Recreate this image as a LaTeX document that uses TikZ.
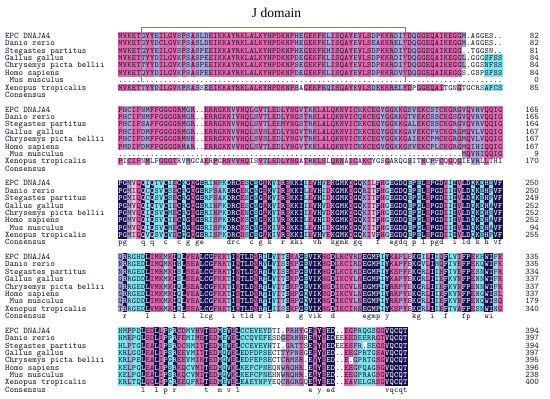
\documentclass[tikz,border=0pt]{standalone}
\usepackage{fontspec}
\newfontfamily\titlefont{Liberation Serif}
\definecolor{alnn}{HTML}{16104E}
\definecolor{alnm}{HTML}{E068AC}
\definecolor{alnl}{HTML}{ABA5D8}
\definecolor{alnc}{HTML}{7DE3EC}
\definecolor{alnp}{HTML}{F2BCD9}
\definecolor{alnT}{HTML}{1A1A2E}
\definecolor{brk}{HTML}{84845A}
\tikzset{
  lab/.style={anchor=base west, inner sep=0pt, font=\fontsize{8.6}{8.6}\selectfont\ttfamily, text=alnT},
  num/.style={anchor=base east, inner sep=0pt, font=\fontsize{8.6}{8.6}\selectfont\ttfamily, text=alnT},
  resd/.style={anchor=base, inner sep=0pt, font=\fontsize{8}{8}\selectfont\ttfamily, text=alnT},
  resw/.style={resd, text=white},
  bracketline/.style={draw=brk, line width=0.9pt},
}
\ExplSyntaxOn
\int_new:N \l__aln_col_int
\tl_new:N \l__aln_code_tl
\tl_new:N \l__aln_yt_tl
\tl_new:N \l__aln_ybt_tl
\tl_new:N \l__aln_yb_tl
\tl_new:N \l__aln_x_tl
\tl_new:N \l__aln_xr_tl
\tl_new:N \l__aln_xc_tl
\tl_new:N \l__aln_cols_tl
\cs_new_protected:Npn \__aln_cell:nnn #1#2#3
  {
    \tl_set:Nx \l__aln_xr_tl { \fp_eval:n { #1 + 4.67 } }
    \tl_set:Nx \l__aln_xc_tl { \fp_eval:n { #1 + 2.26 } }
    \str_if_eq:nnF {#2} {w}
      {
        \fill[fill=aln#2]~(#1,\l__aln_yt_tl)~rectangle~(\l__aln_xr_tl,\l__aln_ybt_tl);
      }
    \str_if_eq:nnF {#3} {-}
      {
        \str_if_eq:nnTF {#2} {n}
          { \path~(\l__aln_xc_tl,\l__aln_yb_tl)~node[resw]~{#3}; }
          { \path~(\l__aln_xc_tl,\l__aln_yb_tl)~node[resd]~{#3}; }
      }
  }
\NewDocumentCommand \alnrow { m m m m m }
  {
    \tl_set:Nx \l__aln_yt_tl { \fp_eval:n { 36 + 7.37 * (#1) - 3.685 } }
    \tl_set:Nx \l__aln_ybt_tl { \fp_eval:n { 36 + 7.37 * (#1) + 3.8 } }
    \tl_set:Nx \l__aln_yb_tl { \fp_eval:n { 36 + 7.37 * (#1) + 2.5 } }
    \path~(5,\l__aln_yb_tl)~node[lab]~{#2};
    \tl_set:Nx \l__aln_cols_tl { \tl_map_function:nN {#4} \exp_not:n }
    \int_zero:N \l__aln_col_int
    \tl_map_inline:nn {#3}
      {
        \int_incr:N \l__aln_col_int
        \tl_set:Nx \l__aln_code_tl { \tl_item:Nn \l__aln_cols_tl { \l__aln_col_int } }
        \tl_if_empty:NT \l__aln_code_tl { \tl_set:Nn \l__aln_code_tl {w} }
        \str_if_eq:nnT {##1} {.} { \tl_set:Nn \l__aln_code_tl {w} }
        \str_if_eq:nnT {##1} {-} { \tl_set:Nn \l__aln_code_tl {w} }
        \tl_set:Nx \l__aln_x_tl { \fp_eval:n { 118.3 + 4.52 * ( \l__aln_col_int - 1 ) } }
        \use:x { \exp_not:N \__aln_cell:nnn { \l__aln_x_tl } { \l__aln_code_tl } { \exp_not:n {##1} } }
      }
    \path~(539,\l__aln_yb_tl)~node[num]~{#5};
  }
\ExplSyntaxOff
\begin{document}
\begin{tikzpicture}[x=1pt,y=-1pt]
\fill[white] (0,0) rectangle (550,399);
\useasboundingbox (0,0) rectangle (550,399);
\node[font=\titlefont\fontsize{13.5}{13.5}\selectfont, anchor=base, inner sep=0pt, text=black] (title) at (276.5,17.5) {J domain};
% ---------- block 1 ----------
\alnrow{0}{EPC DNAJA4}{MVKETGYYEI LGVSPSASLD EIKKAYRKLA LKYHPDKNPH EGEKFKLISQ AYEVLSDPKK RDIYDQGGEQ AIKEGGM.AG GES..}{mmmmmlmmlm mmmlmlmlll mmmmmmmmmm mmmmmmmmml lmmmmmlmmm mmlmmmllmm mllmmlmmmm mmmmmmlwww wwwww}{82}
\alnrow{1}{Danio rerio}{MVKETGYYDC LGVKPSASLD EIKKAYRKLA LKYHPDKNPH EGEKFKLISQ AYEVLSEAKK RELYDQGGEQ AIKEGGM.AG GES..}{mmmmmlmmlm mmmlmlmlll mmmmmmmmmm mmmmmmmmml lmmmmmlmmm mmlmmmllmm mllmmlmmmm mmmmmmlwww wwwww}{82}
\alnrow{2}{Stegastes partitus}{MVKETGYYEI LGVSPSASPE EIKKAYRKLA LKYHPDKNPH EGEKFKHISQ AYEVLSDPKK RDIYDQGGEQ AIKEGG..TG GSN..}{mmmmmlmmlm mmmlmlmlll mmmmmmmmmm mmmmmmmmml lmmmmmlmmm mmlmmmllmm mllmmlmmmm mmmmmmwwww wwwww}{81}
\alnrow{3}{Gallus gallus}{MVKETTYYDI LGVKPSASPE EIKKAYRKLA LKYHPDKNPD EGEKFKLISQ AYEVLSDPKK RDIYDQGGEQ AIKEGGL.GG GSFSS}{mmmmmlmmlm mmmlmlmlll mmmmmmmmmm mmmmmmmmml lmmmmmlmmm mmlmmmllmm mllmmlmmmm mmmmmmlwww wcccc}{84}
\alnrow{4}{Chrysemys picta bellii}{MVKETTYYDI LGVKPSASPE EIKKAYRKLA LKYHPDKNPS EGEKFKLISQ AYEVLSDPKK RDIYDQGGEQ AIKEGGL.GG SNFSS}{mmmmmlmmlm mmmlmlmlll mmmmmmmmmm mmmmmmmmml lmmmmmlmmm mmlmmmllmm mllmmlmmmm mmmmmmlwww wcccc}{84}
\alnrow{5}{Homo sapiens}{MVKETQYYDI LGVKPSASPE EIKKAYRKLA LKYHPDKNPD EGEKFKLISQ AYEVLSDPKK RDVYDQGGEQ AIKEGGS.GS PSFSS}{mmmmmlmmlm mmmlmlmlll mmmmmmmmmm mmmmmmmmml lmmmmmlmmm mmlmmmllmm mllmmlmmmm mmmmmmwwww wcccc}{84}
\alnrow{6}{\hspace*{4.52pt}Mus musculus}{.......... .......... .......... .......... .......... .......... .......... .......... .....}{}{0}
\alnrow{7}{Xenopus tropicalis}{MVKETTYYDI LGVKPSASSE EIKKAYRKLA LKYHPDKNPS AGEKFKQISQ AYEVLSDEKK RELYDPGGEQ AITGNGTGCR SAFCS}{mmmmmlmmlm mmmlmlmlwl mmmmmmmmmm mmmmmmmmml wmmmmmlmmm mmlmmmllmm mllmmwmmmm mmwwwmwwww wcccc}{85}
\alnrow{8}{Consensus}{}{}{}
% ---------- block 2 ----------
\alnrow{10}{EPC DNAJA4}{PHCIFNMFFG GGGRMGR..E RRGKNVVHQL GVTLEDLYNG VTKKLALQKN VICEKCEGYG GKKGSVEKCS TCKGRGVQVH VQQIG}{mllmmllmmm mmmmmlmwwm mmmmmlmmmm lmlmmlmmmm lmlmmmmmmm mmmlmmmmlm mlmmllmmml lmmmlmlmll lmmmm}{165}
\alnrow{11}{Danio rerio}{PHCIFNMFFG GGGRMGR..E RRGKNIVHQL SVTLEDLYNG STRKLALQKN VICQKCEGYG GRKGTVEKCS SCKGSGVQVR VQQIG}{mllmmllmmm mmmmmlmwwm mmmmmlmmmm lmlmmlmmmm lmlmmmmmmm mmmlmmmmlm mlmmllmmml lmmmlmlmll lmmmm}{165}
\alnrow{12}{Stegastes partitus}{PHCIFSAFFG GGGRMGR..E RRGKNVVHQL SVTLEEMYNG STRKLALQKN VICEKCEGYG GKKGALEKCS SCKGRGVQVR VQQIG}{mllmmllmmm mmmmmlmwwm mmmmmlmmmm lmlmmlmmmm lmlmmmmmmm mmmlmmmmlm mlmmllmmml lmmmlmlmll lmmmm}{164}
\alnrow{13}{Gallus gallus}{PHCIFDMFFG GGGRMGR..E RRGKNVVHQL SVSLEDLYNG VTRKLALQKN VICEKCEGYG GKKGAVEKCP VCKGRGMQVL VQQIG}{mllmmllmmm mmmmmlmwwm mmmmmlmmmm lmlmmlmmmm lmlmmmmmmm mmmlmmmmlm mlmmllmmml lmmmlmlmll lmmmm}{167}
\alnrow{14}{Chrysemys picta bellii}{PHCIFDMFFG GGGRMNR..E RRGKNVVHQL SVSLEDLYNG VTRKLALQKN VICEKCEGYG GKKGAIEKCP MCKGRGMQVL VQQIG}{mllmmllmmm mmmmmlmwwm mmmmmlmmmm lmlmmlmmmm lmlmmmmmmm mmmlmmmmlm mlmmllmmml lmmmlmlmll lmmmm}{167}
\alnrow{15}{Homo sapiens}{PMDIFDMFFG GGGRMAR..E RRGKNVVHQL SVTLEDLYNG VTKKLALQKN VICEKCEGVG GKKGSVEKCP LCKGRGMQIH IQQIG}{mllmmllmmm mmmmmlmwwm mmmmmlmmmm lmlmmlmmmm lmlmmmmmmm mmmlmmmmlm mlmmllmmml lmmmlmlmll lmmmm}{167}
\alnrow{16}{\hspace*{4.52pt}Mus musculus}{.......... .......... .......... .......... .......... .......... .......... ......MQVH IQQIG}{mllmmllmmm mmmmmlmwwm mmmmmlmmmm lmlmmlmmmm lmlmmmmmmm mmmlmmmmlm mlmmllmmml lmmmlmlmll lmmmm}{9}
\alnrow{17}{Xenopus tropicalis}{PICIFNMLFG GGTRVMGCAE RPGRNVVHQI SVTLEDLYNG ATRKLSLQKN AICAKCYGSG ARQGSITNCP FCQGQGIEVR LLTHI}{mwmmmwmwwm mmmwwlwwwm wmwmmlmmmw wmlmmlmmmm wmlmmmwmmm wmmwmmwwwm wwwwlwwmwl wmwmwmwwll wmwww}{170}
\alnrow{18}{Consensus}{}{}{}
% ---------- block 3 ----------
\alnrow{20}{EPC DNAJA4}{PGMVQQIQTV CIECKGQGER INPKDRCESC SGAKVIREKK IIEVHVEKGM KDGQKILFHG EGDQEPELEP GDVIIVLDQK DHSVF}{nnlpmncncc ncmncnmnnc cmlcnnnmcn cnmncmnmnn ncmnncmnnn nmnnlmpnmc nnnncncnmn nnmcnmnncn cncnn}{250}
\alnrow{21}{Danio rerio}{PGMIQQCQSV CSECRGQGER FSAKDRCEKC NGRKVIREKK ILEVHIDKGM KDGQRITFHG EGDQEPELEP GDIIIVLDQK EHPVF}{nnlpmncncc ncmncnmnnc cmlcnnnmcn cnmncmnmnn ncmnncmnnn nmnnlmpnmc nnnncncnmn nnmcnmnncn cncnn}{250}
\alnrow{22}{Stegastes partitus}{PGMIQQCQSV CSECRGQGER FSAKDRCESC NGRKVIREKK ILEVHIDKGM KDGQKITFHG EGDQEPGLEP GDIIIVLDQK EHPVF}{nnlpmncncc ncmncnmnnc cmlcnnnmcn cnmncmnmnn ncmnncmnnn nmnnlmpnmc nnnncncnmn nnmcnmnncn cncnn}{249}
\alnrow{23}{Gallus gallus}{PGMVQQIQTV CIECRGQGER INPKDRCESC NGAKVIREKK IIEVHVDKGM KDGQKITFHG EGDQEPGLEP GDIIIVLDQK DHAVF}{nnlpmncncc ncmncnmnnc cmlcnnnmcn cnmncmnmnn ncmnncmnnn nmnnlmpnmc nnnncncnmn nnmcnmnncn cncnn}{252}
\alnrow{24}{Chrysemys picta bellii}{PGMVQQIQSV CMECRGHGER INPKDRCENC SGAKVIREKK IIEVHVDKGM KDGQKITFHG EGDQEPGLEP GDIIIVLDQK DHSVF}{nnlpmncncc ncmncnmnnc cmlcnnnmcn cnmncmnmnn ncmnncmnnn nmnnlmpnmc nnnncncnmn nnmcnmnncn cncnn}{252}
\alnrow{25}{Homo sapiens}{PGMVQQIQSV CIECQGHGER ISPKDRCKSC NGRKIVREKK ILEVHIDKGM KDGQKITFHG EGDQEPGLEP GDIIIVLDQK DHAVF}{nnlpmncncc ncmncnmnnc cmlcnnnmcn cnmncmnmnn ncmnncmnnn nmnnlmpnmc nnnncncnmn nnmcnmnncn cncnn}{252}
\alnrow{26}{\hspace*{4.52pt}Mus musculus}{PGMVQQIQSV CMECQGHGER ISPKDRCKSC NGRKIVREKK ILEVHIDKGM KDGQKITFHG EGDQEPGLEP GDIIIVLDQK DHAVF}{nnlpmncncc ncmncnmnnc cmlcnnnmcn cnmncmnmnn ncmnncmnnn nmnnlmpnmc nnnncncnmn nnmcnmnncn cncnn}{94}
\alnrow{27}{Xenopus tropicalis}{PGMIQQVQSV CVDCQGQGER ISPKDRCDSC SGAKIVREKK IIEVHVEKGM KDGQKIVFHG EGDQEPELEP GDIIIVLDQK EHPVF}{nnlpmncncc ncmncnmnnc cmlcnnnmcn cnmncmnmnn ncmnncmnnn nmnnlmpnmc nnnncncnmn nnmcnmnncn cncnn}{255}
\alnrow{28}{Consensus}{pg---q-q-- c--c-g-ge- ----drc--c -g-k--r-kk i--vh--kgm k-gq---f-- egdq-p-l-p gd--i-ld-k -h-vf}{}{}
% ---------- block 4 ----------
\alnrow{30}{EPC DNAJA4}{QRRGHDLIMK MKIQLVEALC GFKKTIKTLD NRILVITSKA GEVIKHGDLR CVRDEGMPIY KAPLEKGILI IQFLVIFPEK HWIFE}{lnccccnmmm cmncnmmmnn nmmmcnmnnn mncncmcnml ncnnnmmnmm mmlmnnnncn mmlmpnncmn cmnccmnnmc cnncm}{335}
\alnrow{31}{Danio rerio}{NRRGEDLIMQ MKIHLSEALC GFRKTIQTLD NRVLVISSKP GEVIKHGDLK CIRDEGMPIY KAPFEKGVLI HQFIVEFPEK QWIFK}{lnccccnmmm cmncnmmmnn nmmmcnmnnn mncncmcnml ncnnnmmnmm mmlmnnnncn mmlmpnncmn cmnccmnnmc cnncm}{335}
\alnrow{32}{Stegastes partitus}{NRRGEDLIMR MKISLSEALC GFRKTINTLD NRTLVISSKP GEVIKHGDLK CIRDEGMPIY KSPFEKGRLI IHFIVEFPES NWIFR}{lnccccnmmm cmncnmmmnn nmmmcnmnnn mncncmcnml ncnnnmmnmm mmlmnnnncn mmlmpnncmn cmnccmnnmc cnncm}{334}
\alnrow{33}{Gallus gallus}{QRRGDDLIMK MKISLSEALC GFKKTIKTLD NRTLVITSKP GEVIKHGDIK CVLNEGMPIY KAPYEKGRLI IEFKVNFPEN NWIFR}{lnccccnmmm cmncnmmmnn nmmmcnmnnn mncncmcnml ncnnnmmnmm mmlmnnnncn mmlmpnncmn cmnccmnnmc cnncm}{337}
\alnrow{34}{Chrysemys picta bellii}{QRRGEDLVMK MKIQLSEALC GFKKTIKTLD NRTLVITSKP GEVIKHGDIK CVLNEGMPIY RRPYEKGRLI IEFKVNFPEN NWIFR}{lnccccnmmm cmncnmmmnn nmmmcnmnnn mncncmcnml ncnnnmmnmm mmlmnnnncn mmlmpnncmn cmnccmnnmc cnncm}{337}
\alnrow{35}{Homo sapiens}{QRRGEDLIMK MKIQLVEALC GFKKTISTLD NRTIVITSHP GQVIKHGDIK CVLNEGMPIY RRPYEKGRLI IEFKVNFPEN GWISL}{lnccccnmmm cmncnmmmnn nmmmcnmnnn mncncmcnml ncnnnmmnmm mmlmnnnncn mmlmpnncmn cmnccmnnmc cnncm}{337}
\alnrow{36}{\hspace*{4.52pt}Mus musculus}{QRRGDDLIMK MKIQLVEALC GFKKTISTLD NRTIVITSHP GQVIKHGDIK CVLNEGMPIY RRPYEKGRLI IEFKVNFPEN QWISQ}{lnccccnmmm cmncnmmmnn nmmmcnmnnn mncncmcnml ncnnnmmnmm mmlmnnnncn mmlmpnncmn cmnccmnnmc cnncm}{179}
\alnrow{37}{Xenopus tropicalis}{TRRGEDLVMR MKIQLSEALC GFRKTIQTLD NRTLIISSKP GEVIKHGDIK CIRNEGMPIY KSPYEKGRLI IEFTVAFPES NWING}{lnccccnmmm cmncnmmmnn nmmmcnmnnn mncncmcnml ncnnnmmnmm mmlmnnnncn mmlmpnncmn cmnccmnnmc cnncm}{340}
\alnrow{38}{Consensus}{-r----l--- --i-l---lc g----i-tld -r-l---s-- g-vik--d-- ----egmp-y -----kg--i --f---fp-- -wi--}{}{}
% ---------- block 5 ----------
\alnrow{40}{EPC DNAJA4}{HMPPDLEDLL PPRCDMVHVT EDMEVELCCE VEYDTI.PRH YGEPYEED.. EGPRQGSGGV QCQT}{cclccnmmnm ncnmmccmmn mmncnmnccc ccccwwlmll mwnmnmnnww mmlccccmmn nnnn}{394}
\alnrow{41}{Danio rerio}{HMEPGLSDLI PPRFEMIMET EDMEVELCCQ VEFESDGERN HREAYYEDEE EEDEERRGTV QCQT}{cclccnmmnm ncnmmccmmn mmncnmnccc ccccwwlmll mwnmnmnnww mmlccccmmn nnnn}{397}
\alnrow{42}{Stegastes partitus}{HLPTGLEALI PSRDCHMITT EDMEVELCCE VEVHTI.GRT TSEPYVEDEE ESFR.SEGSV QCQT}{cclccnmmnm ncnmmccmmn mmncnmnccc ccccwwlmll mwnmnmnnww mmlccccmmn nnnn}{394}
\alnrow{43}{Gallus gallus}{KRLGGLEALI PSREEVMITT EDMQVELEDF DPSECTTYPN SGEPYVED.. EEGPRTGSAV QCQT}{cclccnmmnm ncnmmccmmn mmncnmnccc ccccwwlmll mwnmnmnnww mmlccccmmn nnnn}{397}
\alnrow{44}{Chrysemys picta bellii}{KRLPELEALI PGREEVMIKT EDMQVELEDF EPSECTCRMS R.EVYEED.. E.GPRTGSGV QCQT}{cclccnmmnm ncnmmccmmn mmncnmnccc ccccwwlmll mwnmnmnnww mmlccccmmn nnnn}{395}
\alnrow{45}{Homo sapiens}{KELPGLEALI PSRKQCVMIT EDMQVKLKEF CPNEQNWRQH R.EAYEED.. EEGPQAGSGV QCQT}{cclccnmmnm ncnmmccmmn mmncnmnccc ccccwwlmll mwnmnmnnww mmlccccmmn nnnn}{396}
\alnrow{46}{\hspace*{4.52pt}Mus musculus}{KELPGLEALI PSRKQCVMIT EDMQVKLKEF CPNEHNWRQH R.EAYEED.. EEGPRAGSGV QCQT}{cclccnmmnm ncnmmccmmn mmncnmnccc ccccwwlmll mwnmnmnnww mmlccccmmn nnnn}{238}
\alnrow{47}{Xenopus tropicalis}{KRLTQLQGLI PCREEQFKLT EDMEVELEAE YNPYEQCRGR GQEAYEED.. EAVELGRSGV QCQT}{cclccnmmnm ncnmmccmmn mmncnmnccc ccccwwlmll mwnmnmnnww mmlccccmmn nnnn}{400}
\alnrow{48}{Consensus}{-----l--l- p-r------t --m-v-l--- ---------- --e-y-ed-- ---------v qcqt}{}{}
% ---------- J domain bracket ----------
\coordinate (bl) at (141.7,82);
\coordinate (tl) at (141.7,27);
\coordinate (tr) at (405,27);
\coordinate (br) at (405,82);
\draw[bracketline] (bl) -- (tl) -- (tr) -- (br);
\end{tikzpicture}
\end{document}
